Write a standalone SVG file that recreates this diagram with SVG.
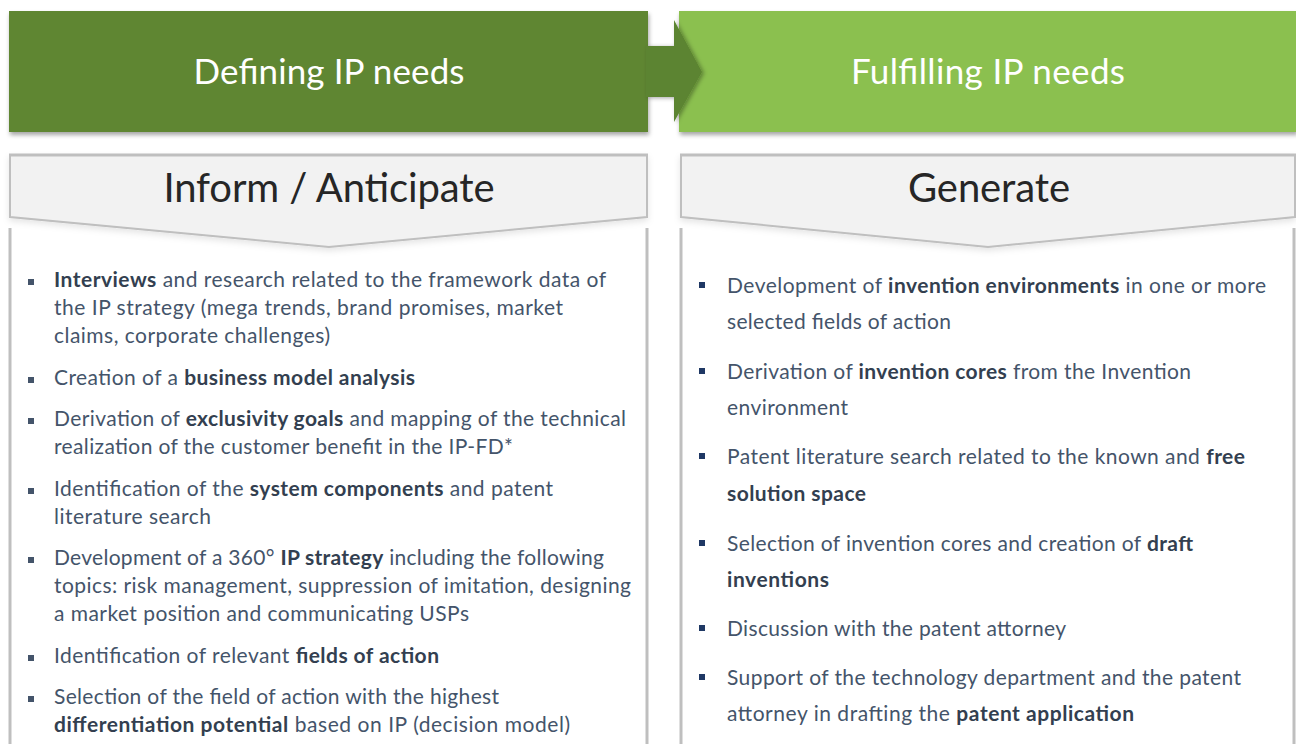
<svg xmlns="http://www.w3.org/2000/svg" width="1296" height="744" viewBox="0 0 1296 744">
<defs>
<filter id="sh" x="-5%" y="-10%" width="110%" height="140%"><feDropShadow dx="1" dy="3" stdDeviation="2" flood-color="#000" flood-opacity="0.35"/></filter>
<filter id="ash" x="-30%" y="-10%" width="160%" height="120%"><feDropShadow dx="2" dy="1" stdDeviation="2" flood-color="#000" flood-opacity="0.35"/></filter>
<filter id="vsh" x="-2%" y="-10%" width="104%" height="130%"><feDropShadow dx="0" dy="3" stdDeviation="3" flood-color="#000" flood-opacity="0.10"/></filter>
<style>
.top{font-family:Lato,"Liberation Sans",sans-serif;font-size:35px;fill:#ffffff;text-anchor:middle}
.ttl{font-family:Lato,"Liberation Sans",sans-serif;font-size:40px;fill:#262626;text-anchor:middle}
.b{font-family:Lato,"Liberation Sans",sans-serif;font-size:21px;fill:#44546A}
.k{font-weight:700;fill:#333F50}
.hdr{fill:#F2F2F2;stroke:#BFBFBF;stroke-width:2}
.top-edge{stroke:#BFBFBF;stroke-width:3}
.side{stroke:#BFBFBF;stroke-width:3;fill:none}
.bl{fill:#44546A}
.br{fill:#1F3864}
</style>
</defs>
<rect width="1296" height="744" fill="#ffffff"/>

<g id="defining">
<rect x="9" y="11" width="639" height="121" fill="#5E8630" filter="url(#sh)"/>
<text class="top" x="329" y="84" textLength="271">Defining IP needs</text>
</g>

<g id="fulfilling">
<rect x="679" y="11" width="618" height="121" fill="#8BC04F" filter="url(#sh)"/>
<text class="top" x="988" y="84" textLength="274">Fulfilling IP needs</text>
</g>

<g id="connectors">
<path d="M646 46 H674 V20 L702 72 L674 122 V97 H646 Z" fill="#5B8430" filter="url(#ash)"/>
</g>

<g id="inform-panel">
<rect x="10" y="228" width="637" height="520" fill="#ffffff"/>
<line class="side" x1="10" y1="228" x2="10" y2="750"/>
<line class="side" x1="647" y1="228" x2="647" y2="750"/>
<polygon class="hdr" points="10,155 647,155 647,217 329,247 10,217" filter="url(#vsh)"/>
<line class="top-edge" x1="9" y1="155" x2="648" y2="155"/>
<text class="ttl" x="329" y="202" textLength="331">Inform / Anticipate</text>
<g class="bl">
<rect x="28" y="279" width="6" height="6"/>
<rect x="28" y="377" width="6" height="6"/>
<rect x="28" y="418" width="6" height="6"/>
<rect x="28" y="488" width="6" height="6"/>
<rect x="28" y="557" width="6" height="6"/>
<rect x="28" y="655" width="6" height="6"/>
<rect x="28" y="696" width="6" height="6"/>
</g>
<text class="b" x="54" y="287" textLength="552"><tspan class="k">Interviews</tspan> and research related to the framework data of</text>
<text class="b" x="54" y="315" textLength="509">the IP strategy (mega trends, brand promises, market</text>
<text class="b" x="54" y="343" textLength="276">claims, corporate challenges)</text>
<text class="b" x="54" y="385" textLength="361">Creation of a <tspan class="k">business model analysis</tspan></text>
<text class="b" x="54" y="426" textLength="572">Derivation of <tspan class="k">exclusivity goals</tspan> and mapping of the technical</text>
<text class="b" x="54" y="454" textLength="459">realization of the customer benefit in the IP-FD*</text>
<text class="b" x="54" y="496" textLength="499">Identification of the <tspan class="k">system components</tspan> and patent</text>
<text class="b" x="54" y="524" textLength="157">literature search</text>
<text class="b" x="54" y="565" textLength="550">Development of a 360° <tspan class="k">IP strategy</tspan> including the following</text>
<text class="b" x="54" y="593" textLength="577">topics: risk management, suppression of imitation, designing</text>
<text class="b" x="54" y="621" textLength="415">a market position and communicating USPs</text>
<text class="b" x="54" y="663" textLength="385">Identification of relevant <tspan class="k">fields of action</tspan></text>
<text class="b" x="54" y="704" textLength="445">Selection of the field of action with the highest</text>
<text class="b" x="54" y="732" textLength="516"><tspan class="k">differentiation potential</tspan> based on IP (decision model)</text>
</g>

<g id="generate-panel">
<rect x="681" y="228" width="613" height="520" fill="#ffffff"/>
<line class="side" x1="681" y1="228" x2="681" y2="750"/>
<line class="side" x1="1294" y1="228" x2="1294" y2="750"/>
<polygon class="hdr" points="681,155 1295,155 1295,217 988,247 681,217" filter="url(#vsh)"/>
<line class="top-edge" x1="680" y1="155" x2="1296" y2="155"/>
<text class="ttl" x="989" y="202" textLength="162">Generate</text>
<g class="br">
<rect x="699" y="282" width="6" height="6"/>
<rect x="699" y="368" width="6" height="6"/>
<rect x="699" y="453" width="6" height="6"/>
<rect x="699" y="540" width="6" height="6"/>
<rect x="699" y="625" width="6" height="6"/>
<rect x="699" y="674" width="6" height="6"/>
</g>
<text class="b" x="727" y="293" textLength="539">Development of <tspan class="k">invention environments</tspan> in one or more</text>
<text class="b" x="727" y="329" textLength="224">selected fields of action</text>
<text class="b" x="727" y="379" textLength="464">Derivation of <tspan class="k">invention cores</tspan> from the Invention</text>
<text class="b" x="727" y="415" textLength="121">environment</text>
<text class="b" x="727" y="464" textLength="518">Patent literature search related to the known and <tspan class="k">free</tspan></text>
<text class="b" x="727" y="501" textLength="139"><tspan class="k">solution space</tspan></text>
<text class="b" x="727" y="551" textLength="466">Selection of invention cores and creation of <tspan class="k">draft</tspan></text>
<text class="b" x="727" y="587" textLength="102"><tspan class="k">inventions</tspan></text>
<text class="b" x="727" y="636" textLength="339">Discussion with the patent attorney</text>
<text class="b" x="727" y="685" textLength="514">Support of the technology department and the patent</text>
<text class="b" x="727" y="721" textLength="407">attorney in drafting the <tspan class="k">patent application</tspan></text>
</g>
</svg>
